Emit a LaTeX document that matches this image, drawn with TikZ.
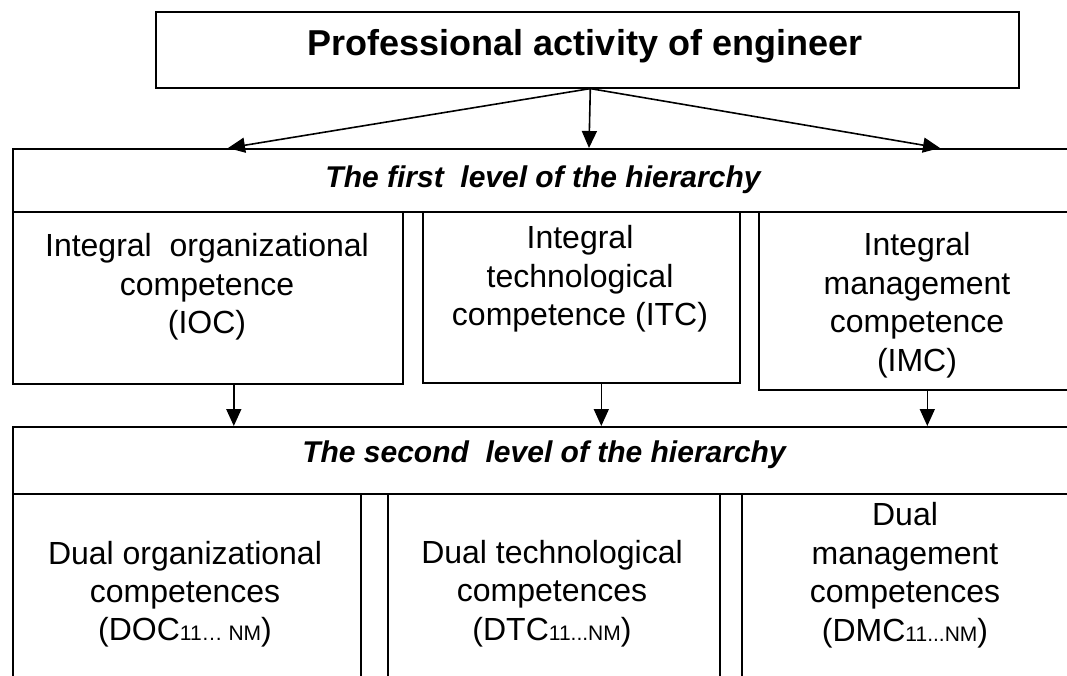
\documentclass[tikz,border=0pt]{standalone}
\usepackage{fontspec}
\setmainfont{Liberation Sans}
\usetikzlibrary{arrows.meta}
\tikzstyle{box}=[draw, inner sep=0pt, anchor=north west]
\tikzstyle{txt}=[font=\fontsize{32}{38.5}\selectfont, align=center, inner sep=0pt, anchor=north]
\tikzstyle{hdr}=[font=\fontsize{30}{36}\selectfont\bfseries\itshape, inner sep=0pt, anchor=base]
\newcommand{\idx}[1]{{\fontsize{21}{21}\selectfont #1}}

\begin{document}
\begin{tikzpicture}[x=1pt,y=-1pt,line width=1.6pt,>={Triangle[length=17pt,width=15pt]}]
    \useasboundingbox (0,0) rectangle (1067,675);
    \clip (0,0) rectangle (1067,675);
    \fill[white] (0,0) rectangle (1067,675);
    % top box
    \node [box, minimum width=863pt, minimum height=76pt] (eng) at (155,11) {};
    \node [font=\fontsize{36}{43}\selectfont\bfseries, anchor=base, inner sep=0pt] (engtxt) at (585,55) {Professional activity of engineer};
    % first level
    \node [box, minimum width=1065pt, minimum height=63pt] (lvl1) at (12,148) {};
    \node [hdr] (lvl1txt) at (543,187) {The first\ \ level of the hierarchy};
    \node [box, minimum width=390pt, minimum height=172pt] (ioc) at (12,211) {};
    \node [box, minimum width=317pt, minimum height=171pt] (itc) at (422,211) {};
    \node [box, minimum width=319pt, minimum height=178pt] (imc) at (758,211) {};
    \node [txt] (ioctxt) at (207,233) {Integral\ \ organizational\\competence\\(IOC)};
    \node [txt] (itctxt) at (580,225) {Integral\\technological\\competence (ITC)};
    \node [txt] (imctxt) at (917,232) {Integral\\management\\competence\\(IMC)};
    % second level
    \node [box, minimum width=1065pt, minimum height=67pt] (lvl2) at (12,426) {};
    \node [hdr] (lvl2txt) at (544,462) {The second\ \ level of the hierarchy};
    \node [box, minimum width=348pt, minimum height=220pt] (doc) at (12,493) {};
    \node [box, minimum width=332pt, minimum height=220pt] (dtc) at (387,493) {};
    \node [box, minimum width=336pt, minimum height=220pt] (dmc) at (741,493) {};
    \node [txt] (doctxt) at (185,540) {Dual organizational\\competences\\(DOC\idx{11… NM})};
    \node [txt] (dtctxt) at (552,539) {Dual technological\\competences\\(DTC\idx{11...NM})};
    \node [txt] (dmctxt) at (905,502) {Dual\\management\\competences\\(DMC\idx{11...NM})};
    % arrows
    \coordinate (l1a) at (228,148);
    \coordinate (l1b) at (589,148);
    \coordinate (l1c) at (940,148);
    \path[->] ([xshift=3pt]eng.south) edge (l1a) edge (l1b) edge (l1c);
    \path[->] ([xshift=26pt]ioc.south) edge ([xshift=26pt]ioc.south |- lvl2.north);
    \path[->] ([xshift=20pt]itc.south) edge ([xshift=20pt]itc.south |- lvl2.north);
    \path[->] ([xshift=9pt]imc.south) edge ([xshift=9pt]imc.south |- lvl2.north);
\end{tikzpicture}
\end{document}
